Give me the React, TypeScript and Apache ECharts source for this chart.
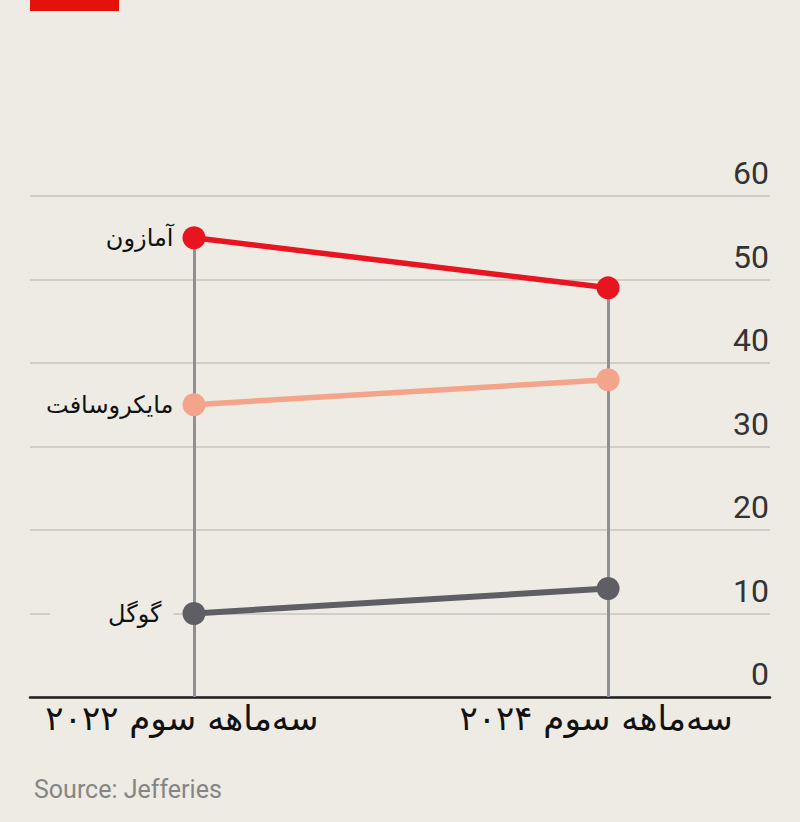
import React, { useEffect, useRef } from "react";
import * as echarts from "echarts";

const categories = ["سه‌ماهه سوم ۲۰۲۲", "سه‌ماهه سوم ۲۰۲۴"];
const companies = ["آمازون", "مایکروسافت", "گوگل"];
const amazon = [55, 49];
const microsoft = [35, 38];
const google = [10, 13];
const colors = ["#E8141F", "#F5A48C", "#5E5E64"];
const yTicks = [0, 10, 20, 30, 40, 50, 60];

const BG = "#EDEBE3";

export default function App() {
  const ref = useRef<HTMLDivElement>(null);
  useEffect(() => {
    if (!ref.current) return;
    const chart = echarts.init(ref.current, undefined, { renderer: "svg" });
    const all = [amazon, microsoft, google];
    const mk = (name: string, vals: number[], color: string, idx: number) => ({
      type: "line",
      name,
      z: 5,
      data: vals.map((v, i) => {
        const item: any = { value: [i, v] };
        if (i === 0) {
          item.label = {
            show: true,
            position: "left",
            distance: 9,
            formatter: name,
            fontSize: 24,
            color: "#111",
            fontFamily: "DejaVu Sans",
            ...(idx === 2
              ? { backgroundColor: BG, padding: [6, 12, 6, 58] }
              : {}),
          };
        }
        return item;
      }),
      symbol: "circle",
      symbolSize: 23,
      lineStyle: { color, width: idx === 2 ? 6 : 5.5 },
      itemStyle: { color },
      emphasis: { disabled: true },
    });
    chart.setOption({
      animation: false,
      backgroundColor: BG,
      title: {
        text: "Source: Jefferies",
        left: 29,
        top: 772,
        textStyle: {
          fontSize: 25,
          fontWeight: "normal",
          color: "#858585",
          fontFamily: "Roboto",
        },
      },
      graphic: [
        { type: "rect", shape: { x: 30, y: 0, width: 89, height: 11 }, style: { fill: "#E3120B" } },
      ],
      grid: { left: 30, right: 30, top: 196, bottom: 125 },
      xAxis: {
        type: "value",
        min: -0.396,
        max: 1.391,
        splitLine: { show: false },
        axisTick: { show: false },
        axisLine: { show: true, lineStyle: { color: "#1E1E1E", width: 2.5 } },
        axisLabel: {
          customValues: [0, 1],
          formatter: (v: number) => categories[Math.round(v)] ?? "",
          fontSize: 34,
          color: "#111",
          fontFamily: "DejaVu Sans",
          margin: 4,
          padding: [0, 24, 0, 0],
        },
      },
      yAxis: {
        type: "value",
        position: "right",
        min: 0,
        max: 60,
        interval: 10,
        axisLine: { show: false },
        axisTick: { show: false },
        splitLine: { lineStyle: { color: "#C6C4BC", width: 1.5 } },
        axisLabel: {
          inside: true,
          verticalAlign: "bottom",
          margin: 1,
          padding: [0, 0, 7, 0],
          fontSize: 32,
          color: "#333",
          fontFamily: "Roboto",
          formatter: (v: number) => (yTicks.includes(v) ? String(v) : ""),
        },
      },
      series: [
        {
          type: "line",
          name: "drops",
          data: [],
          z: 2,
          markLine: {
            silent: true,
            symbol: "none",
            label: { show: false },
            lineStyle: { color: "#8F8F97", width: 3, type: "solid" },
            emphasis: { disabled: true },
            data: categories.map((_, i) => [
              { coord: [i, 0] },
              { coord: [i, Math.max(...all.map((a) => a[i]))] },
            ]),
          },
        },
        mk(companies[0], amazon, colors[0], 0),
        mk(companies[1], microsoft, colors[1], 1),
        mk(companies[2], google, colors[2], 2),
      ],
    });
    return () => chart.dispose();
  }, []);
  return (
    <div
      ref={ref}
      style={{ position: "fixed", left: 0, top: 0, width: 800, height: 822 }}
    />
  );
}
